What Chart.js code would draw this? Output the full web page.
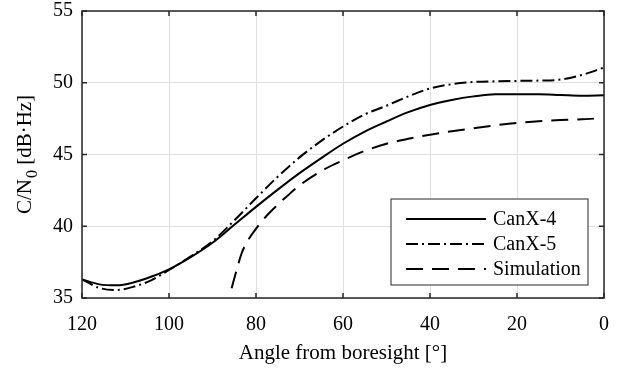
<!DOCTYPE html>
<html>
<head>
<meta charset="utf-8">
<script src="https://cdn.jsdelivr.net/npm/chart.js@4.4.1/dist/chart.umd.min.js"></script>
<style>
    html, body { margin: 0; padding: 0; background: #fff; }
</style>
</head>
<body>
<canvas id="grafica" width="618" height="370"></canvas>
<script>
// Datos (angulo desde boresight vs C/N0)
var angles = [120, 116, 112, 108, 104, 100, 95, 90, 85, 80, 75, 70, 65, 60,
    55, 50, 45, 40, 35, 30, 25, 20, 15, 10, 5, 0];
var canx4Values = [36.3, 35.95, 35.88, 36.1, 36.5, 37.0, 37.85, 38.85, 40.1,
    41.35, 42.55, 43.7, 44.75, 45.75, 46.6, 47.3, 47.95, 48.45, 48.8, 49.05,
    49.2, 49.2, 49.2, 49.15, 49.1, 49.13];
var canx5Values = [36.3, 35.7, 35.56, 35.8, 36.25, 36.95, 37.9, 38.95, 40.4,
    41.95, 43.45, 44.8, 45.95, 46.95, 47.8, 48.4, 49.05, 49.6, 49.9, 50.05,
    50.1, 50.13, 50.15, 50.22, 50.55, 51.06];
var simAngles = [85.6, 84.5, 83.3, 81.8, 79.8, 77.5, 75.2, 72.5, 69.9, 65, 60,
    55, 50, 45, 40, 35, 30, 25, 20, 15, 10, 5, 2.3];
var simValues = [35.68, 36.9, 38.12, 39.04, 39.9, 40.75, 41.45, 42.2, 42.87,
    43.85, 44.6, 45.25, 45.75, 46.1, 46.38, 46.62, 46.83, 47.03, 47.2, 47.32,
    47.4, 47.45, 47.5];
var seriesNames = ['CanX-4', 'CanX-5', 'Simulation'];
var xTicks = [120, 100, 80, 60, 40, 20, 0];
var yTicks = [35, 40, 45, 50, 55];

var serif = "'Liberation Serif', 'Times New Roman', serif";
var axisColor = '#262626';

function toPoints(xs, ys) {
    var pts = [];
    for (var i = 0; i < xs.length; i++) {
        pts.push({ x: xs[i], y: ys[i] });
    }
    return pts;
}

function lineDataSet(label, xs, ys, dash) {
    return {
        label: label,
        data: toPoints(xs, ys),
        borderColor: '#000',
        borderWidth: 2,
        borderDash: dash,
        pointRadius: 0,
        fill: false,
        cubicInterpolationMode: 'monotone'
    };
}

// Caja, ticks hacia dentro, titulos de ejes y leyenda estilo MATLAB
var boxPlugin = {
    id: 'boxPlugin',
    afterDraw: function (chart) {
        var ctx = chart.ctx;
        var area = chart.chartArea;
        var sx = chart.scales.x;
        var sy = chart.scales.y;
        var tl = 5;
        ctx.save();
        ctx.strokeStyle = axisColor;
        ctx.lineWidth = 1.5;
        ctx.setLineDash([]);
        ctx.beginPath();
        xTicks.forEach(function (v) {
            var px = sx.getPixelForValue(v);
            ctx.moveTo(px, area.bottom);
            ctx.lineTo(px, area.bottom - tl);
            ctx.moveTo(px, area.top);
            ctx.lineTo(px, area.top + tl);
        });
        yTicks.forEach(function (v) {
            var py = sy.getPixelForValue(v);
            ctx.moveTo(area.left, py);
            ctx.lineTo(area.left + tl, py);
            ctx.moveTo(area.right, py);
            ctx.lineTo(area.right - tl, py);
        });
        ctx.stroke();
        ctx.strokeRect(area.left, area.top, area.right - area.left, area.bottom - area.top);

        // titulo eje x
        ctx.fillStyle = '#000';
        ctx.font = '21px ' + serif;
        ctx.textAlign = 'center';
        ctx.textBaseline = 'middle';
        ctx.fillText('Angle from boresight [°]', (area.left + area.right) / 2, 353);

        // titulo eje y con subindice
        ctx.save();
        ctx.translate(24, (area.top + area.bottom) / 2);
        ctx.rotate(-Math.PI / 2);
        var big = '21px ' + serif;
        var small = '16px ' + serif;
        ctx.font = big;
        var w1 = ctx.measureText('C/N').width;
        var w3 = ctx.measureText(' [dB·Hz]').width;
        ctx.font = small;
        var w2 = ctx.measureText('0').width + 1;
        var x0 = -(w1 + w2 + w3) / 2;
        ctx.textAlign = 'left';
        ctx.textBaseline = 'alphabetic';
        ctx.font = big;
        ctx.fillText('C/N', x0, 7);
        ctx.font = small;
        ctx.fillText('0', x0 + w1 + 1, 13);
        ctx.font = big;
        ctx.fillText(' [dB·Hz]', x0 + w1 + w2, 7);
        ctx.restore();

        // leyenda
        var lx = area.right - 213, ly = area.bottom - 99, lw = 197, lh = 86;
        ctx.fillStyle = '#fff';
        ctx.fillRect(lx, ly, lw, lh);
        ctx.lineWidth = 1;
        ctx.strokeStyle = axisColor;
        ctx.strokeRect(lx, ly, lw, lh);
        ctx.font = '20px ' + serif;
        ctx.textAlign = 'left';
        ctx.textBaseline = 'middle';
        chart.data.datasets.forEach(function (ds, i) {
            var yy = ly + 20 + i * 25;
            ctx.strokeStyle = '#000';
            ctx.lineWidth = 2;
            ctx.setLineDash(ds.borderDash || []);
            ctx.beginPath();
            ctx.moveTo(lx + 15, yy);
            ctx.lineTo(lx + 95, yy);
            ctx.stroke();
            ctx.setLineDash([]);
            ctx.fillStyle = '#000';
            ctx.fillText(ds.label, lx + 102, yy + 1);
        });
        ctx.restore();
    }
};

var context = document.getElementById('grafica').getContext('2d');
var chart = new Chart(context, {
    type: 'line',
    data: {
        datasets: [
            lineDataSet(seriesNames[0], angles, canx4Values, []),
            lineDataSet(seriesNames[1], angles, canx5Values, [12, 4, 2, 4]),
            lineDataSet(seriesNames[2], simAngles, simValues, [17, 9])
        ]
    },
    options: {
        responsive: false,
        animation: false,
        layout: { padding: { left: 0, right: 14, top: 11, bottom: 0 } },
        plugins: {
            legend: { display: false },
            tooltip: { enabled: false }
        },
        scales: {
            x: {
                type: 'linear',
                reverse: true,
                min: 0,
                max: 120,
                afterBuildTicks: function (scale) {
                    scale.ticks = xTicks.map(function (v) { return { value: v }; });
                },
                afterFit: function (scale) {
                    scale.height = 72;
                    scale.paddingLeft = 0;
                    scale.paddingRight = 0;
                },
                ticks: {
                    font: { family: serif, size: 20 },
                    color: '#000',
                    padding: 15,
                    maxRotation: 0
                },
                grid: { color: '#e0e0e0', lineWidth: 1, drawTicks: false },
                border: { display: false }
            },
            y: {
                min: 35,
                max: 55,
                afterBuildTicks: function (scale) {
                    scale.ticks = yTicks.map(function (v) { return { value: v }; });
                },
                afterFit: function (scale) {
                    scale.width = 82;
                    scale.paddingTop = 0;
                    scale.paddingBottom = 0;
                },
                ticks: {
                    font: { family: serif, size: 20 },
                    color: '#000',
                    padding: 9
                },
                grid: { color: '#e0e0e0', lineWidth: 1, drawTicks: false },
                border: { display: false }
            }
        }
    },
    plugins: [boxPlugin]
});
</script>
</body>
</html>
